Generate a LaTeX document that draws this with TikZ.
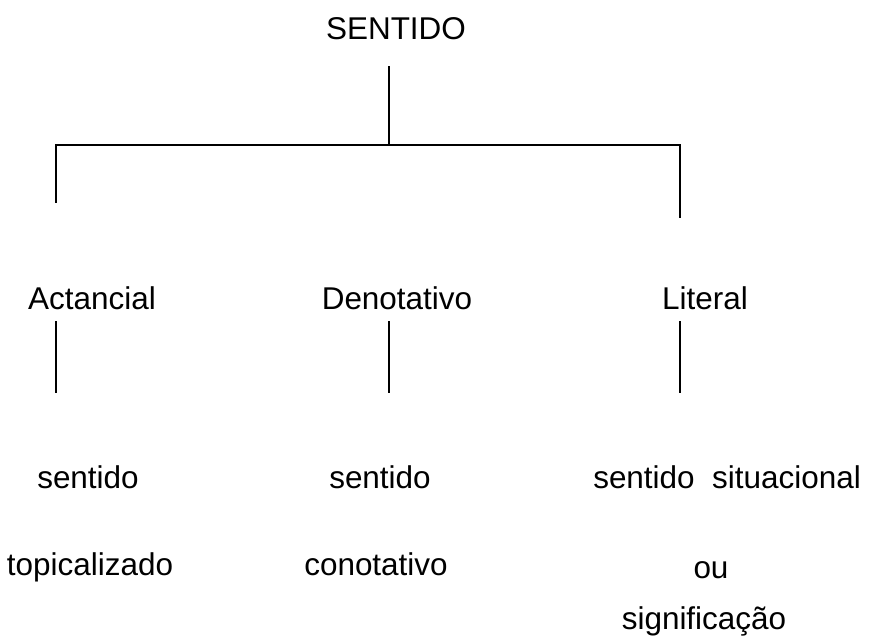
\documentclass[tikz,border=0pt]{standalone}
\usepackage{fontspec}
\setmainfont{Liberation Sans}
\usepackage{tikz}
\usetikzlibrary{calc}
\tikzset{
  x=0.75pt, y=-0.75pt,
  word/.style = {font=\fontsize{23.6}{28}\selectfont, inner sep=0pt, anchor=base},
  heavy/.style = {line width=1.4pt, line cap=rect},
  light/.style = {line width=0.8pt}
}

\begin{document}
\begin{tikzpicture}
			\useasboundingbox (0,0) rectangle (869,636);
			% top of the tree
			\node[word] (root) at (396,39) {SENTIDO};
			\coordinate (r1) at (389,67);
			\coordinate (r2) at (389,145);
			\coordinate (tl) at (56,145);
			\coordinate (tr) at (680,145);
			\coordinate (al) at (56,202);
			\coordinate (ar) at (680,217);
			\draw[heavy] (r1) -- (r2);
			\draw[heavy] (al) -- (tl) -- (tr) -- (ar);
			% second level
			\node[word] (act) at (92,309) {Actancial};
			\node[word] (den) at (397,309) {Denotativo};
			\node[word] (lit) at (705,309) {Literal};
			\foreach \n/\x in {act/56, den/389, lit/680}{
				\coordinate (\n top) at (\x,321);
				\coordinate (\n bot) at (\x,393);
				\draw[light] (\n top) -- (\n bot);
			}
			% third level
			\node[word] (act1) at (88,488) {sentido};
			\node[word] (act2) at (90,575) {topicalizado};
			\node[word] (den1) at (380,488) {sentido};
			\node[word] (den2) at (376,575) {conotativo};
			\node[word, anchor=base west] (lit1) at (593,488) {sentido\ \ situacional};
			\node[word] (lit2) at (711,578) {ou};
			\node[word] (lit3) at (704,629) {significação};
		\end{tikzpicture}
\end{document}
